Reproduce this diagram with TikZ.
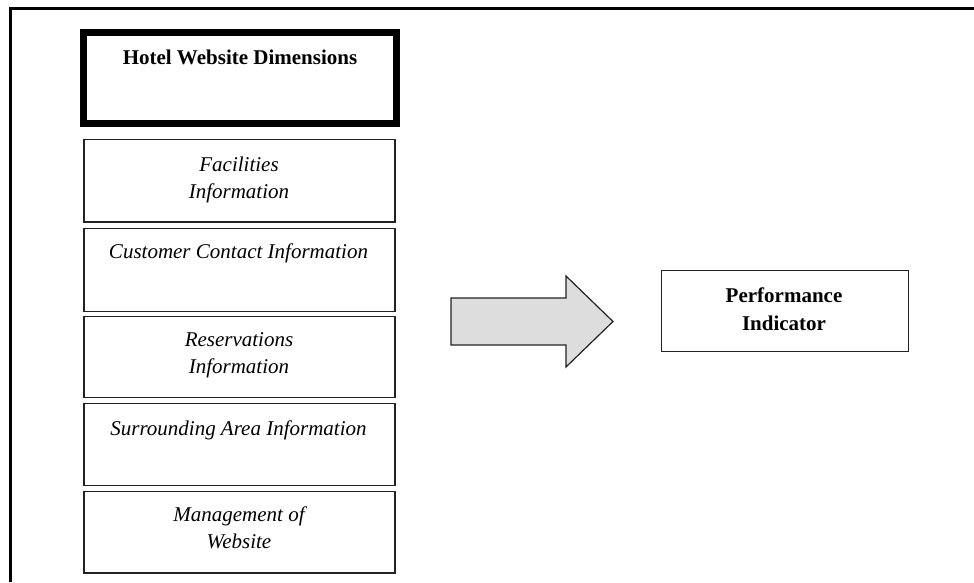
\documentclass[tikz,border=0pt]{standalone}
\usepackage{fontspec}
\setmainfont{Liberation Serif}
\definecolor{arrowfill}{HTML}{DDDDDD}
\definecolor{boxline}{HTML}{222222}
\begin{document}
\begin{tikzpicture}[x=1pt,y=-1pt,
  itembox/.style={draw=boxline, line width=1.3pt, rectangle, inner sep=0pt, outer sep=0pt,
                  minimum width=311pt},
  itemtext/.style={anchor=base, align=center, inner sep=0pt,
                   font=\fontsize{21}{27}\selectfont\itshape},
  headtext/.style={anchor=base, align=center, inner sep=0pt,
                   font=\fontsize{21}{28}\selectfont\bfseries}]
  \useasboundingbox (0,0) rectangle (974,582);

  % outer frame (top and left edges)
  \draw[line width=3pt] (974,8.5) -- (10.5,8.5) -- (10.5,582);

  % heading box
  \node[draw, line width=7pt, rectangle, inner sep=0pt, minimum width=312.5pt,
        minimum height=91pt] (head) at (239.75,78) {};
  \node[headtext] (headlbl) at (240,64) {Hotel Website Dimensions};

  % dimension boxes
  \node[itembox, minimum height=82.5pt] (fac) at (239.5,180.75) {};
  \node[itembox, minimum height=83pt]   (cust) at (239.5,270) {};
  \node[itembox, minimum height=81pt]   (res) at (239.5,357) {};
  \node[itembox, minimum height=82pt]   (sur) at (239.5,444.5) {};
  \node[itembox, minimum height=81.5pt] (man) at (239.5,532.25) {};

  % labels (base anchor sits on the last line's baseline)
  \node[itemtext] (faclbl)  at (239,198)   {Facilities\\Information};
  \node[itemtext] (custlbl) at (238.5,258) {Customer Contact Information};
  \node[itemtext] (reslbl)  at (239,373.5) {Reservations\\Information};
  \node[itemtext] (surlbl)  at (238.5,435) {Surrounding Area Information};
  \node[itemtext] (manlbl)  at (239,548.5) {Management of\\Website};

  % block arrow
  \coordinate (a1) at (451,298);
  \coordinate (a2) at (566,298);
  \coordinate (a3) at (566,276);
  \coordinate (tip) at (613,321.5);
  \coordinate (a5) at (566,367);
  \coordinate (a6) at (566,345);
  \coordinate (a7) at (451,345);
  \draw[draw=boxline, fill=arrowfill, line width=1.2pt, line join=miter]
    (a1) -- (a2) -- (a3) -- (tip) -- (a5) -- (a6) -- (a7) -- cycle;

  % outcome box
  \node[draw=boxline, line width=1.3pt, rectangle, inner sep=0pt,
        minimum width=247pt, minimum height=81pt] (perf) at (785,311) {};
  \node[headtext] (perflbl) at (784,330) {Performance\\Indicator};
\end{tikzpicture}
\end{document}
